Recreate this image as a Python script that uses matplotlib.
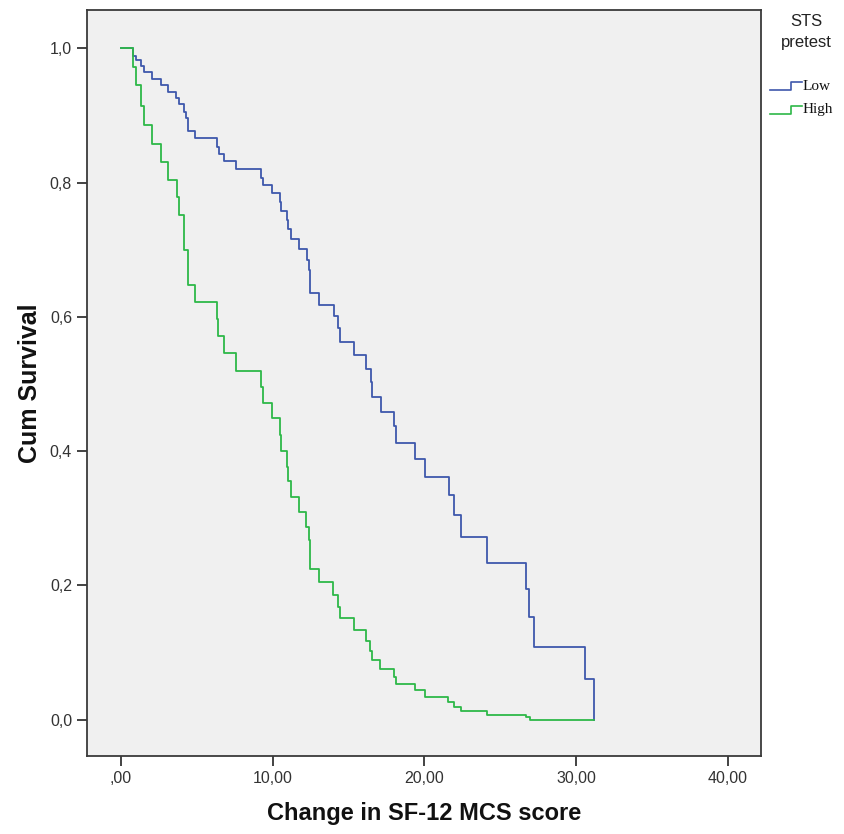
import matplotlib
matplotlib.use("Agg")
import matplotlib.pyplot as plt
from matplotlib.lines import Line2D

# ---------------- data ----------------
low_times = [0.79, 0.96, 1.33, 1.51, 2.02, 2.63, 3.11, 3.64, 3.84, 4.15, 4.30, 4.43, 4.87,
             6.36, 6.43, 6.76, 7.59, 9.24, 9.35, 9.96, 10.51, 10.58, 10.93, 11.0, 11.2,
             11.72, 12.23, 12.4, 12.49, 13.08, 14.03, 14.29, 14.47, 15.39, 16.16, 16.49,
             16.55, 17.15, 18.02, 18.16, 19.41, 20.02, 21.6, 21.98, 22.42, 24.13, 26.72,
             26.9, 27.25, 30.61, 31.15]
low_surv = [0.989, 0.982, 0.974, 0.964, 0.954, 0.945, 0.935, 0.926, 0.917, 0.905, 0.896, 0.877,
            0.866, 0.853, 0.843, 0.832, 0.820, 0.807, 0.796, 0.784, 0.771, 0.757, 0.744, 0.731,
            0.716, 0.701, 0.685, 0.670, 0.635, 0.618, 0.601, 0.583, 0.563, 0.543, 0.523, 0.503,
            0.480, 0.459, 0.437, 0.412, 0.388, 0.362, 0.334, 0.305, 0.272, 0.233, 0.194,
            0.153, 0.109, 0.061, 0.0]

high_times = [0.79, 1.0, 1.29, 1.55, 2.06, 2.63, 3.12, 3.66, 3.84, 4.14, 4.43, 4.87, 6.34,
              6.41, 6.78, 7.59, 9.24, 9.35, 9.96, 10.51, 10.58, 10.93, 11.0, 11.24, 11.72,
              12.2, 12.4, 12.49, 13.08, 13.98, 14.29, 14.42, 15.34, 16.13, 16.44, 16.55,
              17.1, 18.02, 18.16, 19.41, 20.02, 21.57, 21.95, 22.4, 24.13, 26.7, 26.96]
high_surv = [0.972, 0.945, 0.914, 0.886, 0.858, 0.831, 0.804, 0.778, 0.751, 0.699, 0.647,
             0.6226, 0.597, 0.571, 0.546, 0.520, 0.495, 0.471, 0.449, 0.4245, 0.4007, 0.377,
             0.355, 0.331, 0.310, 0.287, 0.267, 0.224, 0.205, 0.186, 0.168, 0.152, 0.134,
             0.117, 0.1025, 0.089, 0.075, 0.063, 0.053, 0.044, 0.034, 0.026, 0.019, 0.013,
             0.007, 0.0034, 0.0]
high_last_time = 31.15

group_labels = ["Low", "High"]
legend_title = "STS\npretest"
x_ticks = [0, 10, 20, 30, 40]
x_ticklabels = [",00", "10,00", "20,00", "30,00", "40,00"]
y_ticks = [0.0, 0.2, 0.4, 0.6, 0.8, 1.0]
y_ticklabels = ["0,0", "0,2", "0,4", "0,6", "0,8", "1,0"]
x_label = "Change in SF-12 MCS score"
y_label = "Cum Survival"

# ---------------- style ----------------
W, H = 844, 834
BLUE = "#3E58AC"
GREEN = "#2EB848"
SANS = ["Liberation Sans", "DejaVu Sans"]

fig = plt.figure(figsize=(W / 100, H / 100), dpi=100)
fig.patch.set_facecolor("white")


def fx(px):
    return px / W


def fy(py):
    return 1 - py / H


ax = fig.add_axes([fx(86.7), fy(756), fx(760.7) - fx(86.7), fy(10) - fy(756)])
ax.set_facecolor("#F0F0F0")

hx = [0.0] + high_times + [high_last_time]
hy = [1.0] + high_surv + [high_surv[-1]]
lx = [0.0] + low_times
ly = [1.0] + low_surv

ax.step(lx, ly, where="post", color=BLUE, lw=1.3, zorder=3)
ax.step(hx, hy, where="post", color=GREEN, lw=1.3, zorder=4)

ax.set_xlim(-2.26, 42.17)
ax.set_ylim(-0.054, 1.057)
ax.set_xticks(x_ticks)
ax.set_xticklabels(x_ticklabels)
ax.set_yticks(y_ticks)
ax.set_yticklabels(y_ticklabels)

for s in ax.spines.values():
    s.set_color("#3a3a3a")
    s.set_linewidth(1.3)

ax.tick_params(direction="out", length=7.5, width=1.2, color="#222222",
               labelsize=11.5, labelcolor="#333333", pad=3)
for lab in ax.get_xticklabels() + ax.get_yticklabels():
    lab.set_family(SANS)

ax.set_xlabel(x_label, family=SANS, fontweight="bold", fontsize=17,
              color="#111111", labelpad=12)
ax.set_ylabel(y_label, family=SANS, fontweight="bold", fontsize=18,
              color="#111111", labelpad=6)

# ---------------- legend (drawn manually) ----------------
fig.text(fx(806), fy(32), legend_title, ha="center", va="center",
         fontsize=12, color="#222222", family=SANS, linespacing=1.5)

colors = [BLUE, GREEN]
ys = [86, 110]
for lab, col, yy in zip(group_labels, colors, ys):
    xs = [fx(770), fx(791), fx(791), fx(802)]
    yv = [fy(yy + 4), fy(yy + 4), fy(yy - 4), fy(yy - 4)]
    fig.add_artist(Line2D(xs, yv, color=col, lw=1.2, transform=fig.transFigure))
    fig.text(fx(803), fy(yy), lab, ha="left", va="center", fontsize=11,
             color="#111111", family=["Liberation Serif", "DejaVu Serif"])

fig.savefig("out.png", dpi=100, facecolor="white")
